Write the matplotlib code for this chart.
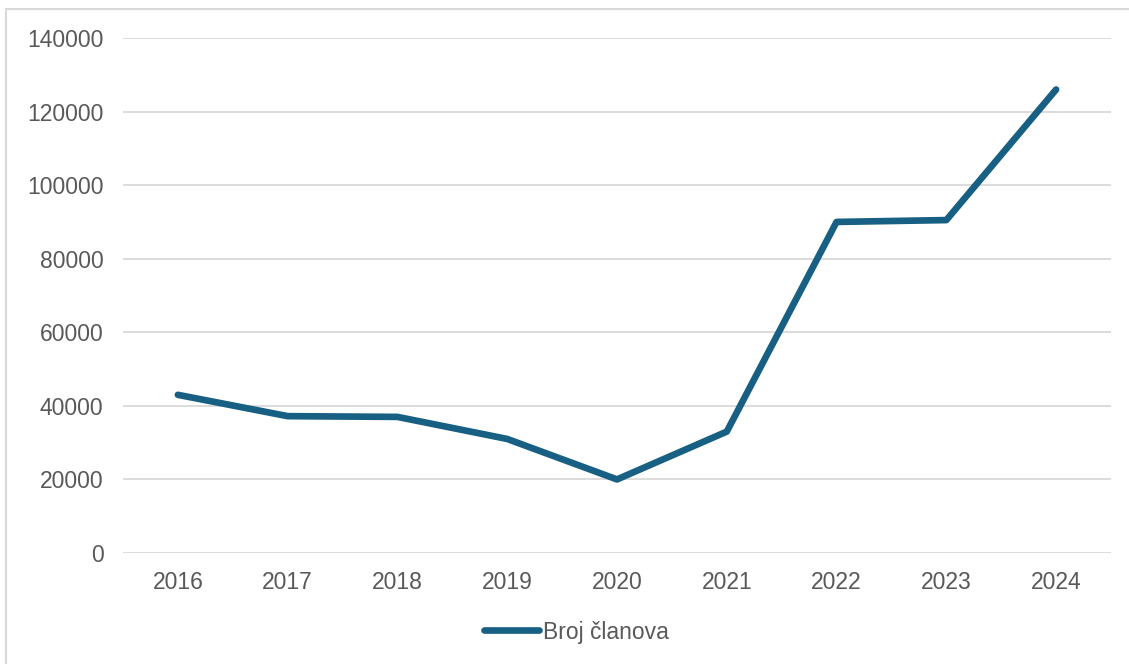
import matplotlib
matplotlib.use("Agg")
import matplotlib.pyplot as plt
from matplotlib.patches import Rectangle
from matplotlib.lines import Line2D

years = ["2016", "2017", "2018", "2019", "2020", "2021", "2022", "2023", "2024"]
members = [43000, 37200, 37000, 31000, 20000, 33000, 90000, 90500, 126000]
series_name = "Broj članova"
yticks = [0, 20000, 40000, 60000, 80000, 100000, 120000, 140000]

plt.rcParams['font.family'] = ['Liberation Sans', 'DejaVu Sans']

W, H = 1129, 664
fig = plt.figure(figsize=(W / 100, H / 100), dpi=100)
ax = fig.add_axes([123 / W, (H - 553) / H, (1111 - 123) / W, (553 - 38) / H])

line_color = '#185f84'
text_color = '#595959'
grid_color = '#d9d9d9'

x = list(range(len(years)))
ax.plot(x, members, color=line_color, lw=4.8, solid_capstyle='round', solid_joinstyle='round', zorder=3)

ax.set_xlim(-0.5, len(years) - 0.5)
ax.set_ylim(0, 140000)
ax.set_yticks(yticks)
ax.set_yticklabels([str(v) for v in yticks])
ax.set_xticks(x)
ax.set_xticklabels(years)
ax.grid(axis='y', color=grid_color, lw=1.3)
ax.set_axisbelow(True)
for s in ax.spines.values():
    s.set_visible(False)
ax.tick_params(axis='both', length=0, labelsize=16.5, colors=text_color)
ax.tick_params(axis='y', pad=14)
ax.tick_params(axis='x', pad=13)

# legend
handle = Line2D([0], [0], color=line_color, lw=4.8, solid_capstyle='round')
leg = fig.legend([handle], [series_name], loc='center', bbox_to_anchor=(576 / W, (H - 632) / H),
                 frameon=False, fontsize=16.5, handlelength=2.4, handletextpad=0.17)
for t in leg.get_texts():
    t.set_color(text_color)

# outer frame
fig.patches.append(Rectangle((6 / W, -0.01), 1.02, (H - 9) / H + 0.01, transform=fig.transFigure,
                             fill=False, edgecolor=grid_color, lw=1.5))

fig.savefig("out.png", dpi=100)
